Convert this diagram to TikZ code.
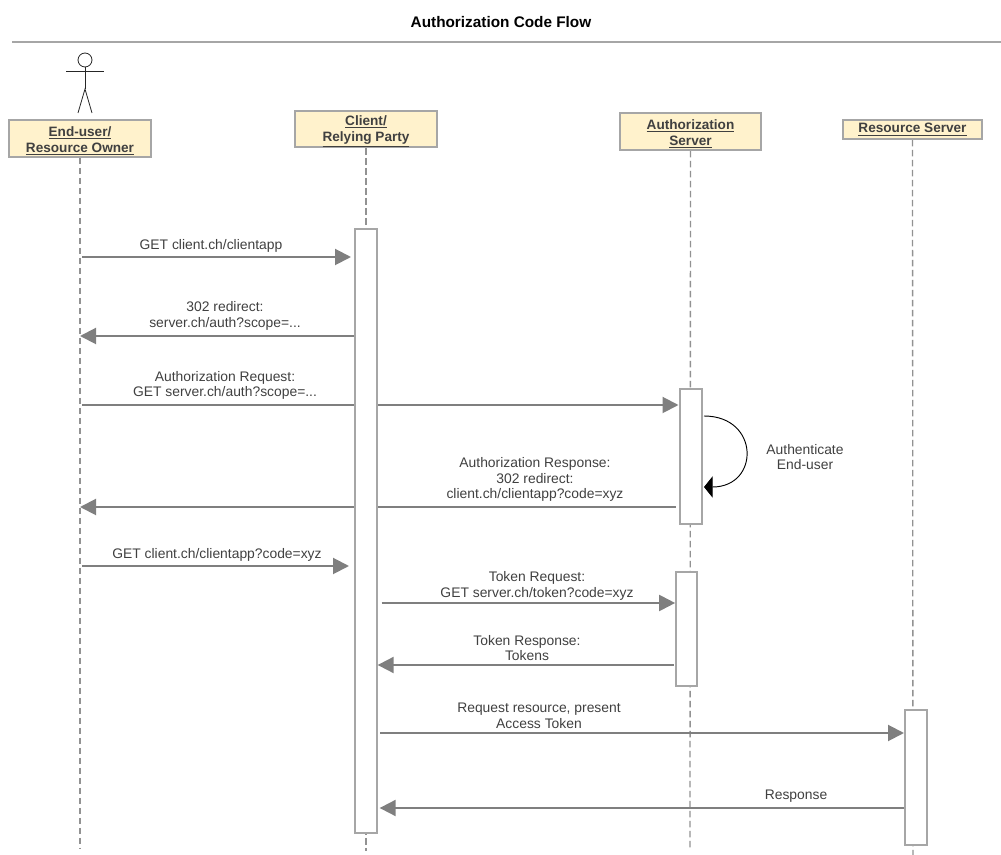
\documentclass[tikz,border=0pt]{standalone}
\usepackage{fontspec}
\setmainfont{Liberation Sans}
\usepackage{xcolor}
\usetikzlibrary{arrows.meta,backgrounds}
\definecolor{headfill}{HTML}{FFF2CC}
\definecolor{edgegray}{HTML}{A6A6A6}
\definecolor{arrowgray}{HTML}{7F7F7F}
\definecolor{labelink}{HTML}{404040}
\newcommand{\headstrut}{\rule{0pt}{10.5pt}}

\begin{document}
\begin{tikzpicture}[
  x=0.75pt,y=-0.75pt,
  head/.style={draw=edgegray,fill=headfill,line width=1.5pt,inner sep=0pt,
    font=\fontsize{10.2}{12}\selectfont\bfseries,align=center,text=black!75},
  bar/.style={draw=edgegray,fill=white,line width=1.5pt,inner sep=0pt},
  life/.style={draw=arrowgray!85,line width=1pt,dash pattern=on 5pt off 2.5pt},
  msg/.style={-{Triangle[length=12pt,width=12pt]},arrowgray,line width=1.5pt},
  lbl/.style={font=\fontsize{10.4}{11.7}\selectfont,align=center,text=labelink,inner sep=0pt},
  person/.style={draw=black!85,line width=0.6pt}
]
\useasboundingbox (0,0) rectangle (1001,855);
% title and rule
\node[font=\fontsize{11.5}{13}\selectfont\bfseries,inner sep=0pt] (title) at (501,22) {Authorization Code Flow};
\coordinate (ruleL) at (12,42);
\coordinate (ruleR) at (1001,42);
\draw[edgegray,line width=1.3pt] (ruleL) -- (ruleR);
% actor
\node[draw=black!85,fill=white,circle,line width=0.6pt,minimum size=10.5pt,inner sep=0pt] (actorhead) at (85,60) {};
\coordinate (hip) at (85,89);
\coordinate (armL) at (66,71);
\coordinate (armR) at (104,71);
\coordinate (footL) at (78,113);
\coordinate (footR) at (92,113);
\draw[person] (actorhead.south) -- (hip);
\draw[person] (armL) -- (armR);
\draw[person] (footL) -- (hip) -- (footR);
% header boxes
\node[head,minimum width=106pt,minimum height=27.5pt] (user) at (80,138.5) {\headstrut\underline{End-user/}\\\underline{Resource Owner}};
\node[head,minimum width=106pt,minimum height=27pt] (client) at (366,129) {\headstrut\underline{Client/}\\\underline{Relying Party}};
\node[head,minimum width=106pt,minimum height=27.5pt] (auth) at (690.5,131.5) {\headstrut\underline{Authorization}\\\underline{Server}};
\node[head,minimum width=104pt,minimum height=14pt] (resource) at (912.5,129.5) {\underline{Resource Server}};
% activation bars
\node[bar,minimum width=16pt,minimum height=453pt] (clientbar) at (366,531) {};
\node[bar,minimum width=16.5pt,minimum height=101pt] (authbarA) at (690.5,456.5) {};
\node[bar,minimum width=15.5pt,minimum height=85.5pt] (authbarB) at (686.5,629) {};
\node[bar,minimum width=16.5pt,minimum height=101pt] (resbar) at (916,777.5) {};
% ends of the lifelines
\coordinate (userend) at (80,848);
\coordinate (clientend) at (366,851);
\coordinate (authend) at (690,848);
\coordinate (resend) at (913,855);
\begin{scope}[on background layer]
\draw[life] (user.south) -- (userend);
\draw[life] (client.south) -- (clientend);
\draw[life] (auth.south) -- (authend);
\draw[life] (resource.south) -- (resend);
\end{scope}
% messages
\coordinate (m1) at (82,257);
\coordinate (m2) at (80,336);
\coordinate (m3) at (82,405);
\coordinate (m4) at (80,507);
\coordinate (m5) at (82,566);
\draw[msg,shorten >=2.5pt] (m1) -- (m1 -| clientbar.west);
\draw[msg] (m2 -| clientbar.west) -- (m2);
\begin{scope}[on background layer]
\draw[msg] (m3) -- (m3 -| authbarA.west);
\draw[msg,shorten <=2pt] (m4 -| authbarA.west) -- (m4);
\end{scope}
\draw[msg,shorten >=4pt] (m5) -- (m5 -| clientbar.west);
\coordinate (m6) at (0,603);
\coordinate (m7) at (0,665);
\coordinate (m8) at (0,733);
\coordinate (m9) at (0,808);
\draw[msg,shorten <=3pt] (m6 -| clientbar.east) -- (m6 -| authbarB.west);
\draw[msg,shorten <=1pt] (m7 -| authbarB.west) -- (m7 -| clientbar.east);
\draw[msg,shorten <=2pt] (m8 -| clientbar.east) -- (m8 -| resbar.west);
\draw[msg,shorten >=1.5pt] (m9 -| resbar.west) -- (m9 -| clientbar.east);
% self call
\coordinate (selfA) at (704,416);
\coordinate (selfB) at (704,487);
\draw[-{Triangle[length=6.5pt,width=16pt]},black,line width=0.7pt] (selfA) .. controls (760,416) and (760,487) .. (selfB);
% labels
\node[lbl] (l1) at (211,246) {GET client.ch/clientapp};
\node[lbl] (l2) at (225,316) {302 redirect:\\server.ch/auth?scope=...};
\node[lbl] (l3) at (225,385.5) {Authorization Request:\\GET server.ch/auth?scope=...};
\node[lbl] (l4) at (535,479.5) {Authorization Response:\\302 redirect:\\client.ch/clientapp?code=xyz};
\node[lbl] (l5) at (217,555) {GET client.ch/clientapp?code=xyz};
\node[lbl] (l6) at (537,586) {Token Request:\\GET server.ch/token?code=xyz};
\node[lbl] (l7) at (527,648) {Token Response:\\Tokens};
\node[lbl] (l8) at (539,716) {Request resource, present\\Access Token};
\node[lbl] (l9) at (796,796) {Response};
\node[lbl] (l10) at (805,457) {Authenticate\\End-user};
\end{tikzpicture}
\end{document}
